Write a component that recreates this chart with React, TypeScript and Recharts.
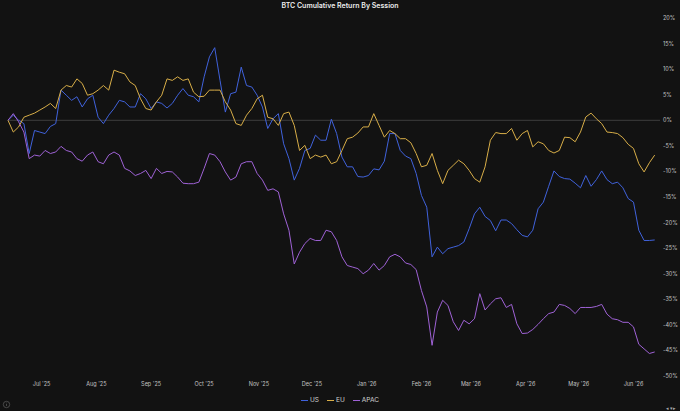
import React from "react";
import { LineChart, Line, XAxis, YAxis, ReferenceLine } from "recharts";

const TITLE = "BTC Cumulative Return By Session";
const SERIES_NAMES = ["US", "EU", "APAC"];
const COLORS = { US: "#4062dc", EU: "#d8ae48", APAC: "#9f62d6" };

// one reading every 3 days, starting 12 Jun 2025
const STEP_DAYS = 3;

const US = [
  0, 1.0, 0, -0.65, -6.5, -2.0, -2.3, -2.6, -1.2, -0.65, 5.9, 4.9, 3.9, 4.6, 2.6, 4.2, 4.9, 0.6, -0.65, 1.0,
  2.3, 3.9, 3.6, 2.6, 2.6, 5.2, 4.2, 2.3, 3.6, 3.3, 2.4,
  3.3, 4.9, 6.2, 4.9, 4.6, 3.6, 8.5, 12.4, 14.2, 7.8, 1.6, 5.2, 5.5, 10.4, 6.8, 6.5, 4.9, 2.6, -1.6, 0.3,
  1.3, -4.6, -7.5, -11.7, -9.4, -5.9, -5.5, -2.9, -3.9, -3.9, 0.2,
  -2.6, -7.2, -9.1, -9.1, -11.0, -11.1, -10.8, -9.5, -9.7, -8.0, -2.6, -2.6, -5.9, -7.0, -7.5, -10.4, -14.7, -17.0, -26.7, -24.8,
  -26.1, -25.1, -24.8, -24.5, -23.8, -21.2, -18.3, -17.0, -18.8, -19.6, -21.6,
  -19.5, -19.5, -20.2, -21.4, -22.5, -22.8, -21.5, -17.3, -16.0, -12.9, -9.9, -11.0, -11.4, -11.5, -12.3, -13.2, -10.8, -12.9, -11.6, -9.9,
  -11.6, -12.4, -12.1, -13.2, -15.3, -16.0, -21.5, -23.5, -23.5, -23.4,
];

const EU = [
  0, -2.3, -1.3, 0.6, 1.0, 1.4, 2.0, 2.6, 3.3, 2.3, 5.9, 6.8, 6.5, 8.1, 7.2, 4.9, 5.2, 5.9, 6.8, 5.9,
  9.8, 9.4, 9.1, 7.5, 6.8, 4.2, 2.3, 2.0, 3.6, 4.9, 8.1,
  7.8, 8.5, 7.8, 8.1, 5.5, 4.6, 4.7, 5.9, 5.9, 5.9, 3.6, 2.0, -0.65, -1.0, 1.0, 2.3, 4.2, 4.9, 0.6, 0.3,
  -1.0, 1.3, 1.6, -1.0, -5.9, -4.9, -7.5, -6.8, -7.2, -6.8, -8.5,
  -8.1, -5.9, -3.6, -3.3, -2.5, -1.3, -1.3, 1.3, -1.0, -3.3, -2.0, -2.6, -3.6, -3.6, -4.4, -6.5, -9.1, -8.8, -6.5, -9.8,
  -12.4, -9.8, -8.8, -7.8, -8.5, -9.8, -11.4, -12.1, -9.1, -3.9, -2.4,
  -2.6, -2.6, -1.6, -3.9, -2.6, -2.0, -5.2, -4.2, -4.6, -5.9, -6.4, -5.9, -3.3, -3.4, -4.2, -2.3, 0.65, 1.4, 0.3, -0.65,
  -2.3, -2.4, -2.6, -3.4, -4.7, -5.5, -8.5, -10.1, -8.3, -6.8,
];

const APAC = [
  0, 1.3, -0.3, -2.3, -7.5, -6.8, -7.0, -5.9, -6.5, -6.2, -5.1, -5.9, -6.2, -7.5, -8.0, -6.8, -6.2, -8.1, -8.5, -6.8,
  -6.2, -6.8, -9.4, -9.9, -10.8, -10.4, -9.8, -11.4, -9.4, -10.4, -10.0,
  -10.1, -11.1, -12.3, -12.4, -12.4, -12.1, -9.4, -6.5, -6.8, -8.1, -10.1, -11.7, -11.1, -8.5, -8.1, -8.1, -10.4, -11.7, -13.7, -13.4,
  -14.0, -18.3, -21.5, -28.1, -25.8, -24.1, -23.1, -23.5, -23.5, -21.5, -21.8,
  -23.5, -26.7, -28.4, -28.7, -29.0, -30.0, -29.3, -28.0, -29.3, -28.4, -26.7, -26.2, -26.7, -27.9, -28.2, -29.2, -33.3, -36.5, -44.0, -37.5,
  -35.2, -36.2, -39.4, -41.1, -39.1, -39.8, -38.8, -33.9, -37.1, -35.9, -34.9,
  -34.7, -36.6, -36.0, -39.8, -41.7, -41.6, -40.9, -39.9, -38.8, -37.8, -37.5, -36.0, -36.2, -36.8, -37.8, -36.6, -36.6, -36.6, -36.4, -36.0,
  -37.9, -38.8, -39.0, -39.5, -39.5, -40.4, -43.8, -44.7, -45.6, -45.3,
];

// month starts, in days after 12 Jun 2025
const MONTH_TICK_DAYS = [19, 50, 81, 111, 142, 172, 203, 234, 262, 293, 323, 354];
const MONTH_TICK_LABELS = ["Jul '25", "Aug '25", "Sep '25", "Oct '25", "Nov '25", "Dec '25", "Jan '26", "Feb '26", "Mar '26", "Apr '26", "May '26", "Jun '26"];
const Y_TICKS = [20, 15, 10, 5, 0, -5, -10, -15, -20, -25, -30, -35, -40, -45, -50];
const X_DOMAIN = [0, 369];
const Y_DOMAIN = [-50, 20];

const data = US.map((v, i) => ({ day: i * STEP_DAYS, US: v, EU: EU[i], APAC: APAC[i] }));

const FONT = "Inter, 'Noto Sans', sans-serif";

export default function App() {
  return (
    <div style={{ position: "fixed", left: 0, top: 0, width: 680, height: 411, background: "#121212", fontFamily: FONT, overflow: "hidden" }}>
      <div style={{ position: "absolute", top: 1, left: 0, width: 680, textAlign: "center", color: "#ececec", fontSize: 7, fontWeight: 600, lineHeight: "10px" }}>
        {TITLE}
      </div>
      <LineChart width={680} height={411} data={data} margin={{ top: 18, right: 0, left: 8, bottom: 21 }}>
        <XAxis
          dataKey="day"
          type="number"
          domain={X_DOMAIN}
          ticks={MONTH_TICK_DAYS}
          tickFormatter={(d) => MONTH_TICK_LABELS[MONTH_TICK_DAYS.indexOf(d)] ?? ""}
          axisLine={false}
          tickLine={false}
          tickSize={0}
          tickMargin={6}
          height={14}
          interval={0}
          tick={{ fill: "#c4c4c4", fontSize: 5.5, fontFamily: FONT }}
        />
        <YAxis
          orientation="right"
          type="number"
          domain={Y_DOMAIN}
          ticks={Y_TICKS}
          tickFormatter={(v) => `${v}%`}
          axisLine={false}
          tickLine={false}
          tickSize={0}
          tickMargin={3}
          width={20}
          interval={0}
          tick={{ fill: "#c4c4c4", fontSize: 5.5, fontFamily: FONT, textAnchor: "start" }}
        />
        <ReferenceLine y={0} stroke="#4a4a4a" strokeWidth={0.8} />
        {SERIES_NAMES.map((name) => (
          <Line
            key={name}
            type="linear"
            dataKey={name}
            stroke={COLORS[name]}
            strokeWidth={1}
            dot={false}
            isAnimationActive={false}
          />
        ))}
      </LineChart>
      <div style={{ position: "absolute", top: 395, left: 0, width: 680, display: "flex", justifyContent: "center", gap: 8, color: "#d0d0d0", fontSize: 6.5, lineHeight: "10px" }}>
        {SERIES_NAMES.map((name) => (
          <div key={name} style={{ display: "flex", alignItems: "center", gap: 2 }}>
            <span style={{ display: "inline-block", width: 7, height: 1, background: COLORS[name] }} />
            <span>{name}</span>
          </div>
        ))}
      </div>
      <svg style={{ position: "absolute", left: 2, top: 400 }} width={9} height={9}>
        <circle cx={4.5} cy={4.5} r={3.2} fill="none" stroke="#555" strokeWidth={0.8} />
        <line x1={4.5} y1={3.8} x2={4.5} y2={6} stroke="#555" strokeWidth={0.8} />
        <circle cx={4.5} cy={2.8} r={0.4} fill="#555" />
      </svg>
      <div style={{ position: "absolute", left: 666, top: 404, fontSize: 5, color: "#aaa", lineHeight: "8px", letterSpacing: 0.5 }}>
        {"\u25C2\u25BE\u25B8"}
      </div>
    </div>
  );
}
